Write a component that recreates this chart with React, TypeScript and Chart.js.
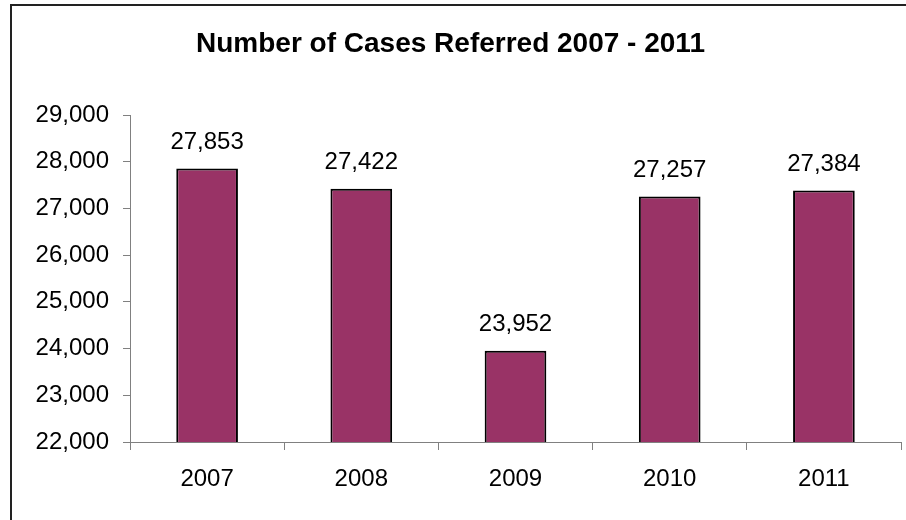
import React, { useEffect, useRef } from "react";
import { Chart, registerables } from "chart.js";

Chart.register(...registerables);

const categories = ["2007", "2008", "2009", "2010", "2011"];
const casesReferred = [27853, 27422, 23952, 27257, 27384];
const yMin = 22000;
const yMax = 29000;
const yStep = 1000;
const titleText = "Number of Cases Referred 2007 - 2011";

const FONT = "'Liberation Sans', Arial, Helvetica, sans-serif";
const fmt = (v: number) => Number(v).toLocaleString("en-US");

const frameAndLabels = {
  id: "frameAndLabels",
  afterDraw(chart: any) {
    const ctx = chart.ctx;
    ctx.save();
    ctx.strokeStyle = "#222";
    ctx.lineWidth = 2;
    ctx.beginPath();
    ctx.moveTo(11, 520);
    ctx.lineTo(11, 5);
    ctx.lineTo(906, 5);
    ctx.stroke();
    const meta = chart.getDatasetMeta(0);
    ctx.fillStyle = "#000";
    ctx.font = `24px ${FONT}`;
    ctx.textAlign = "center";
    ctx.textBaseline = "middle";
    meta.data.forEach((bar: any, i: number) => {
      ctx.fillText(fmt(casesReferred[i]), bar.x, bar.y - 26);
    });
    ctx.restore();
  },
};

export default function App() {
  const ref = useRef<HTMLCanvasElement | null>(null);
  useEffect(() => {
    if (!ref.current) return;
    const chart = new Chart(ref.current, {
      type: "bar",
      data: {
        labels: categories,
        datasets: [
          {
            data: casesReferred,
            backgroundColor: "#993366",
            borderColor: "#000",
            borderWidth: 2,
            borderSkipped: false,
            barPercentage: 0.4,
            categoryPercentage: 1,
          },
        ],
      },
      options: {
        responsive: false,
        animation: false,
        layout: { padding: { top: 0, left: 0, right: 5, bottom: 0 } },
        plugins: {
          legend: { display: false },
          tooltip: { enabled: false },
          title: {
            display: true,
            text: titleText,
            color: "#000",
            font: { family: FONT, size: 28, weight: "bold", lineHeight: 1.2 },
            padding: { top: 27, bottom: 54.4 },
          },
        },
        scales: {
          x: {
            grid: {
              drawOnChartArea: false,
              drawTicks: true,
              tickLength: 8,
              color: "#808080",
              offset: true,
            },
            border: { display: true, color: "#808080", width: 1 },
            ticks: {
              color: "#000",
              font: { family: FONT, size: 24 },
              padding: 15,
              maxRotation: 0,
            },
            afterFit(scale: any) {
              scale.height = 78;
            },
          },
          y: {
            min: yMin,
            max: yMax,
            grid: {
              drawOnChartArea: false,
              drawTicks: true,
              tickLength: 7,
              color: "#808080",
            },
            border: { display: true, color: "#808080", width: 1 },
            ticks: {
              stepSize: yStep,
              color: "#000",
              font: { family: FONT, size: 24 },
              padding: 14,
              callback: (v: any) => fmt(v),
            },
            afterFit(scale: any) {
              scale.width = 130;
            },
          },
        },
      },
      plugins: [frameAndLabels],
    });
    return () => chart.destroy();
  }, []);
  return (
    <div style={{ position: "absolute", left: 0, top: 0, width: 906, height: 520, background: "#fff" }}>
      <canvas ref={ref} width={906} height={520} style={{ display: "block" }} />
    </div>
  );
}
